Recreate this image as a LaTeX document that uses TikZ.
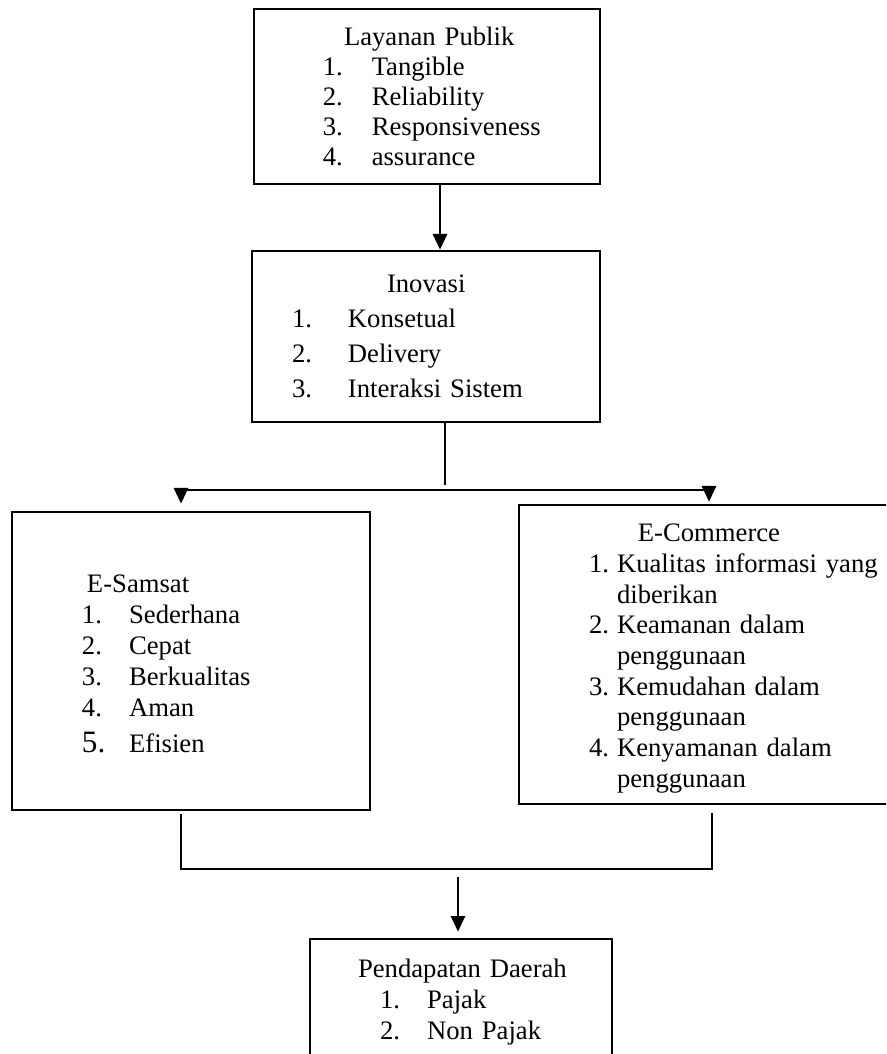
\documentclass[tikz,border=0pt]{standalone}
\usepackage{fontspec}
\setmainfont{Liberation Serif}
\usetikzlibrary{arrows.meta, calc}

\newcommand{\butir}[3]{\hspace*{#1}\makebox[#2][l]{#3}}

\begin{document}
\begin{tikzpicture}[x=0.45pt, y=-0.45pt, >={Triangle[length=7pt, width=6.5pt]},
    kotak/.style={draw, line width=1.3pt, inner xsep=0pt, inner ysep=0pt, align=left},
    garis/.style={line width=0.6pt}]
    \useasboundingbox (0,0) rectangle (886,1054);
    \clip (0,0) rectangle (886,1054);

    % kotak-kotak
    \node[kotak, text width=155.7pt, minimum height=78.75pt, font=\fontsize{12pt}{13.5pt}\selectfont] (publik) at (427,96.5) {%
        \hspace*{40.5pt}Layanan Publik\\
        \butir{31pt}{22pt}{1.}Tangible\\
        \butir{31pt}{22pt}{2.}Reliability\\
        \butir{31pt}{22pt}{3.}Responsiveness\\
        \butir{31pt}{22pt}{4.}assurance};
    \node[kotak, text width=156.6pt, minimum height=76.95pt, font=\fontsize{12pt}{15.75pt}\selectfont] (inovasi) at (426,336.5) {%
        \hspace*{60.75pt}Inovasi\\
        \butir{18pt}{25.2pt}{1.}Konsetual\\
        \butir{18pt}{25.2pt}{2.}Delivery\\
        \butir{18pt}{25.2pt}{3.}Interaksi Sistem};
    \node[kotak, text width=161.1pt, minimum height=134.1pt, font=\fontsize{12pt}{14pt}\selectfont] (samsat) at (191,661) {%
        \rule{0pt}{10.7pt}\hspace*{33.75pt}E-Samsat\\
        \butir{31.5pt}{21.2pt}{1.}Sederhana\\
        \butir{31.5pt}{21.2pt}{2.}Cepat\\
        \butir{31.5pt}{21.2pt}{3.}Berkualitas\\
        \butir{31.5pt}{21.2pt}{4.}Aman\\[2.2pt]
        \butir{31.5pt}{21.2pt}{\fontsize{14pt}{14pt}\selectfont 5.}Efisien};
    \node[kotak, text width=171.45pt, minimum height=134.55pt, font=\fontsize{12pt}{13.8pt}\selectfont] (commerce) at (709.5,654.5) {%
        \rule{0pt}{11.6pt}\hspace*{53.5pt}E-Commerce\\
        \butir{31.5pt}{12.6pt}{1.}Kualitas informasi yang\\
        \hspace*{44.1pt}diberikan\\
        \butir{31.5pt}{12.6pt}{2.}Keamanan dalam\\
        \hspace*{44.1pt}penggunaan\\
        \butir{31.5pt}{12.6pt}{3.}Kemudahan dalam\\
        \hspace*{44.1pt}penggunaan\\
        \butir{31.5pt}{12.6pt}{4.}Kenyamanan dalam\\
        \hspace*{44.1pt}penggunaan};
    \node[kotak, text width=135.9pt, minimum height=56.7pt, font=\fontsize{12pt}{14pt}\selectfont] (pendapatan) at (461,1002) {%
        \hspace*{21.6pt}Pendapatan Daerah\\
        \butir{31.5pt}{21.2pt}{1.}Pajak\\
        \butir{31.5pt}{21.2pt}{2.}Non Pajak};

    % titik bantu
    \coordinate (x1) at (440,0);
    \coordinate (cabang) at (445,485);
    \coordinate (kiri) at (181,490);
    \coordinate (kanan) at (709,490);
    \coordinate (bkiri) at (181,869);
    \coordinate (bkanan) at (712,869);
    \coordinate (turun) at (458,877);

    % garis penghubung
    \draw[garis, ->] (publik.south -| x1) -- (inovasi.north -| x1);
    \draw[garis] (inovasi.south -| cabang) -- (cabang);
    \draw[garis] (kiri) -- (kanan);
    \draw[garis, ->] (kiri) -- ($(samsat.north -| kiri)+(0,-7)$);
    \draw[garis, ->] (kanan) -- ($(commerce.north -| kanan)+(0,-2)$);
    \draw[garis] ($(samsat.south -| bkiri)+(0,3)$) -- (bkiri) -- (bkanan) -- ($(commerce.south -| bkanan)+(0,8)$);
    \draw[garis, ->] (turun) -- ($(pendapatan.north -| turun)+(0,-6)$);
\end{tikzpicture}
\end{document}
